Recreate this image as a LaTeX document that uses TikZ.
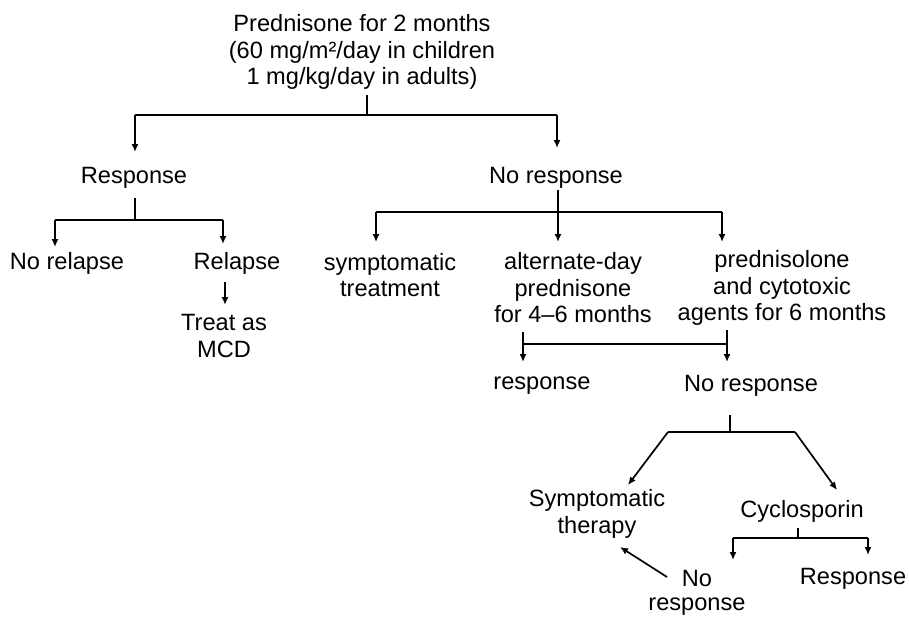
\documentclass[tikz,border=0pt]{standalone}
\usepackage{fontspec}
\setmainfont{Liberation Sans}
\usetikzlibrary{arrows.meta}
\begin{document}
\begin{tikzpicture}[x=1pt,y=-1pt,
  lbl/.style={inner sep=0pt,align=center,font=\fontsize{23.6}{26.5}\selectfont},
  ln/.style={line width=1.7pt},
  arr/.style={line width=1.7pt,-{Latex[length=8pt,width=7pt]}}]
\useasboundingbox[fill=white] (0,0) rectangle (909,618);
% nodes
\node[lbl] (top) at (362,52) {Prednisone for 2 months\\(60 mg/m²/day in children\\1 mg/kg/day in adults)};
\node[lbl] (resp) at (134,178) {Response};
\node[lbl] (noresp) at (556,178) {No response};
\node[lbl] (norel) at (67,263) {No relapse};
\node[lbl] (rel) at (237,263) {Relapse};
\node[lbl] (mcd) at (224,336) {Treat as\\MCD};
\node[lbl] (sympt) at (390,275) {symptomatic\\treatment};
\node[lbl] (alt) at (573,288) {alternate-day\\prednisone\\for 4--6 months};
\node[lbl] (pred) at (782,288) {prednisolone\\and cytotoxic\\agents for 6 months};
\node[lbl] (resp2) at (542,386) {response};
\node[lbl] (noresp2) at (751,386) {No response};
\node[lbl] (symth) at (597,514) {Symptomatic\\therapy};
\node[lbl] (cyc) at (802,511) {Cyclosporin};
\node[lbl] (resp3) at (853,579) {Response};
\node[lbl,font=\fontsize{23.6}{24.5}\selectfont] (noresp3) at (697,593) {No\\response};
% junction coordinates
\coordinate (t0) at (367,95);  \coordinate (t1) at (367,115);
\coordinate (tL) at (135,115); \coordinate (tR) at (557,115);
\coordinate (tLa) at (135,152); \coordinate (tRa) at (557,148);
\coordinate (r0) at (135,198); \coordinate (r1) at (135,220);
\coordinate (rL) at (55,220);  \coordinate (rR) at (223,220);
\coordinate (rLa) at (55,247); \coordinate (rRa) at (223,244);
\coordinate (m0) at (225,282); \coordinate (m1) at (225,305);
\coordinate (n0) at (558,190); \coordinate (n1) at (558,212);
\coordinate (nL) at (376,212); \coordinate (nR) at (722,212);
\coordinate (nLa) at (376,242); \coordinate (nMa) at (558,242); \coordinate (nRa) at (722,242);
\coordinate (a0) at (523,332); \coordinate (a1) at (523,344); \coordinate (aa) at (523,362);
\coordinate (p0) at (727,330); \coordinate (p1) at (727,344); \coordinate (pa) at (727,362);
\coordinate (s0) at (730,415); \coordinate (s1) at (730,432);
\coordinate (sL) at (668,432); \coordinate (sR) at (795,432);
\coordinate (sLa) at (628,485); \coordinate (sRa) at (837,490);
\coordinate (c0) at (798,528); \coordinate (c1) at (798,538);
\coordinate (cL) at (733,538); \coordinate (cR) at (868,538);
\coordinate (cLa) at (733,560); \coordinate (cRa) at (868,555);
\coordinate (q0) at (667,577); \coordinate (qa) at (620,547);
% connectors
\draw[ln] (t0) -- (t1);
\draw[ln] (tL) -- (tR);
\draw[arr] (tL) -- (tLa);
\draw[arr] (tR) -- (tRa);
\draw[ln] (r0) -- (r1);
\draw[ln] (rL) -- (rR);
\draw[arr] (rL) -- (rLa);
\draw[arr] (rR) -- (rRa);
\draw[arr] (m0) -- (m1);
\draw[ln] (nL) -- (nR);
\draw[arr] (n0) -- (nMa);
\draw[arr] (nL) -- (nLa);
\draw[arr] (nR) -- (nRa);
\draw[ln] (a1) -- (p1);
\draw[arr] (a0) -- (aa);
\draw[arr] (p0) -- (pa);
\draw[ln] (s0) -- (s1);
\draw[ln] (sL) -- (sR);
\draw[arr] (sL) -- (sLa);
\draw[arr] (sR) -- (sRa);
\draw[ln] (c0) -- (c1);
\draw[ln] (cL) -- (cR);
\draw[arr] (cL) -- (cLa);
\draw[arr] (cR) -- (cRa);
\draw[arr] (q0) -- (qa);
\end{tikzpicture}
\end{document}
